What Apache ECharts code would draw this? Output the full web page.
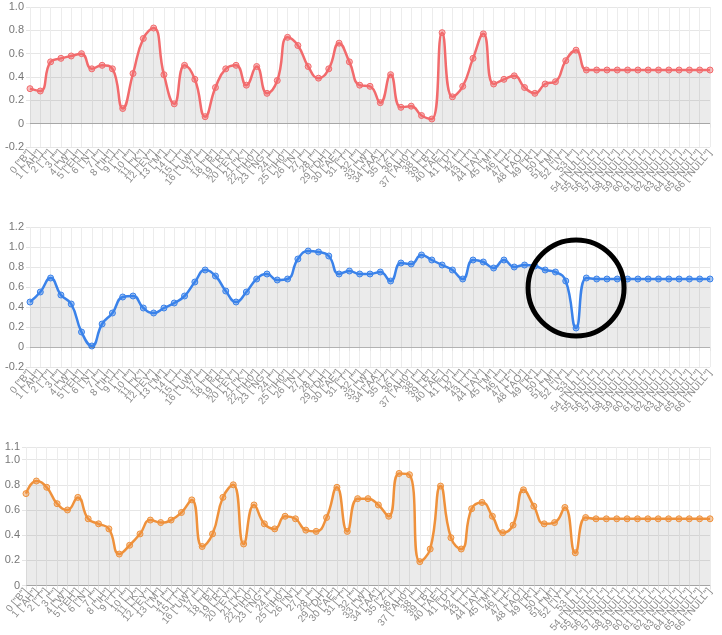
<!DOCTYPE html>
<html>
<head>
<meta charset="utf-8">
<script src="https://cdn.jsdelivr.net/npm/echarts@6/dist/echarts.min.js"></script>
<style>
html,body{margin:0;padding:0;background:#fff;}
#chart{width:722px;height:635px;}
</style>
</head>
<body>
<div id="chart"></div>
<script>
// ---- data ----
const phonemes = ["B","AH","T","","W","EH","N","","IH","T","","K","EY","M","","T","UW","","B","R","EY","K","IH0","NG","","IH0","N","","","DH","AE","T","","W","AA","Z","","AH0","","B","AE","D","","T","AY","M","","F","AO","R","","M","IY","",
  "NULL","NULL","NULL","NULL","NULL","NULL","NULL","NULL","NULL","NULL","NULL","NULL","NULL"];
const categories = phonemes.map((p, i) => i + ' ["' + p + '"]');

const redValues = [0.30,0.28,0.53,0.56,0.58,0.60,0.47,0.50,0.47,0.13,0.43,0.73,0.82,0.42,0.17,0.50,0.38,0.06,0.31,0.47,0.50,0.33,0.49,0.26,0.37,0.74,0.67,0.49,0.39,0.47,0.69,0.53,0.33,
  0.32,0.18,0.42,0.14,0.15,0.07,0.04,0.78,0.23,0.32,0.56,0.77,0.34,0.38,0.41,0.31,0.26,0.34,0.36,0.54,0.63,0.46,
  0.46,0.46,0.46,0.46,0.46,0.46,0.46,0.46,0.46,0.46,0.46,0.46];
const blueValues = [0.45,0.55,0.69,0.52,0.43,0.15,0.01,0.23,0.34,0.50,0.51,0.39,0.34,0.39,0.44,0.51,0.65,0.77,0.71,0.56,0.45,0.55,0.68,0.73,0.67,0.68,0.88,0.96,0.95,0.91,0.73,0.76,0.73,
  0.73,0.75,0.66,0.84,0.83,0.92,0.87,0.82,0.77,0.68,0.87,0.85,0.79,0.87,0.80,0.82,0.81,0.77,0.75,0.66,0.19,0.69,
  0.68,0.68,0.68,0.68,0.68,0.68,0.68,0.68,0.68,0.68,0.68,0.68];
const orangeValues = [0.73,0.83,0.78,0.65,0.60,0.70,0.53,0.49,0.45,0.25,0.32,0.41,0.52,0.50,0.52,0.58,0.68,0.31,0.41,0.70,0.80,0.33,0.64,0.49,0.45,0.55,0.53,0.44,0.43,0.54,0.78,0.43,0.69,
  0.69,0.64,0.55,0.89,0.88,0.19,0.29,0.79,0.38,0.29,0.61,0.66,0.55,0.42,0.48,0.76,0.63,0.49,0.50,0.62,0.26,0.54,
  0.53,0.53,0.53,0.53,0.53,0.53,0.53,0.53,0.53,0.53,0.53,0.53];

const yRanges = [[-0.2, 1.0], [-0.2, 1.2], [0, 1.1]];
const circleAt = [53, 0.59];

// ---- chart ----
const font = '"Liberation Sans", Arial, sans-serif';
const grids = [
  {left: 30, right: 12, top: 7, height: 140},
  {left: 30, right: 12, top: 227, height: 140},
  {left: 26, right: 12, top: 447, height: 141}
];
const colors = [
  {line: '#f26a6c', fill: 'rgba(242,106,108,0.45)'},
  {line: '#3a82ea', fill: 'rgba(58,130,234,0.45)'},
  {line: '#ef913b', fill: 'rgba(239,145,59,0.45)'}
];
const seriesData = [redValues, blueValues, orangeValues];

const xAxes = grids.map((g, i) => ({
  type: 'category', gridIndex: i, data: categories, boundaryGap: false,
  axisLine: {show: true, lineStyle: {color: i === 2 ? 'rgba(0,0,0,0.25)' : '#e4e4e4'}},
  axisTick: {show: true, length: 4, interval: 0, lineStyle: {color: '#e4e4e4'}},
  splitLine: {show: true, interval: 0, lineStyle: {color: '#ececec'}},
  axisLabel: {interval: 0, rotate: 50, fontSize: 10, color: '#8a8a8a', fontFamily: font, margin: 4}
}));
const yAxes = grids.map((g, i) => ({
  type: 'value', gridIndex: i, min: yRanges[i][0], max: yRanges[i][1], interval: 0.2,
  axisLine: {show: false},
  axisTick: {show: true, length: 4, lineStyle: {color: '#e4e4e4'}},
  splitLine: {show: true, lineStyle: {color: '#e6e6e6'}},
  axisLabel: {fontSize: 11, color: '#777', fontFamily: font, margin: 6,
    formatter: v => Math.abs(v) < 1e-9 ? '0' : v.toFixed(1)}
}));
const series = seriesData.map((d, i) => {
  const s = {
    type: 'line', xAxisIndex: i, yAxisIndex: i, data: d,
    smooth: 0.5, symbol: 'circle', symbolSize: 6, showSymbol: true,
    lineStyle: {color: colors[i].line, width: 2.5},
    itemStyle: {color: colors[i].fill, borderColor: colors[i].line, borderWidth: 1},
    areaStyle: {color: 'rgba(0,0,0,0.11)', origin: 0},
    silent: true, animation: false
  };
  if (i < 2) {
    s.markLine = {silent: true, symbol: 'none', label: {show: false},
      lineStyle: {color: 'rgba(0,0,0,0.22)', type: 'solid', width: 1},
      data: [{yAxis: 0}]};
  }
  if (i === 1) {
    s.markPoint = {silent: true, symbol: 'circle', symbolSize: 96, label: {show: false},
      itemStyle: {color: 'rgba(0,0,0,0)', borderColor: '#000', borderWidth: 5},
      data: [{coord: [circleAt[0], circleAt[1]]}]};
  }
  return s;
});

const chart = echarts.init(document.getElementById('chart'), null, {renderer: 'canvas'});
chart.setOption({
  animation: false,
  backgroundColor: '#fff',
  grid: grids,
  xAxis: xAxes,
  yAxis: yAxes,
  series: series
});
</script>
</body>
</html>
